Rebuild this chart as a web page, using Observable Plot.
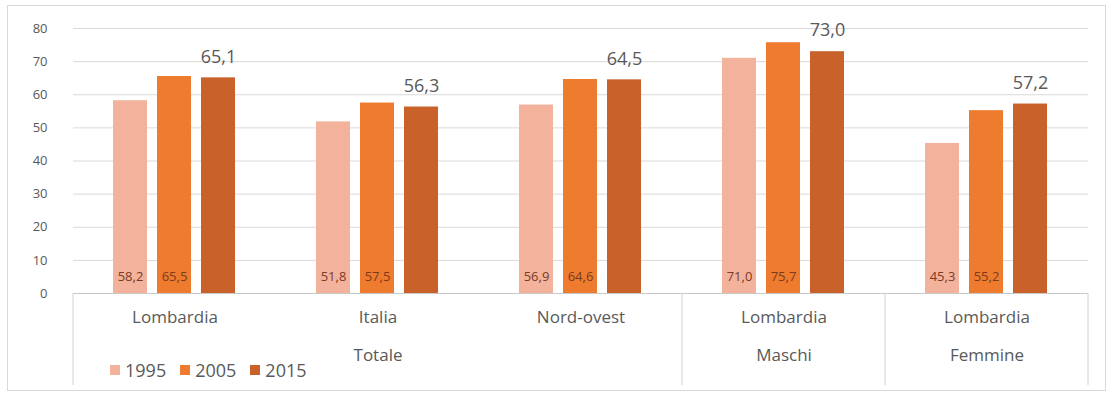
<!DOCTYPE html>
<html>
<head>
<meta charset="utf-8">
<script src="https://cdn.jsdelivr.net/npm/d3@7"></script>
<script src="https://cdn.jsdelivr.net/npm/@observablehq/plot@0.6"></script>
<style>
  body { margin: 0; background: #fff; }
  #wrap { position: relative; width: 1113px; height: 394px; font-family: "Open Sans", sans-serif; }
  #border { position: absolute; left: 7px; top: 5px; width: 1097px; height: 384px; border: 1px solid #d9d9d9; pointer-events: none; }
  #legend { position: absolute; left: 110px; top: 358px; display: flex; gap: 14px; font-size: 18px; color: #595959; }
  #legend span.sw { display: inline-block; width: 10px; height: 10px; margin-right: 5px; vertical-align: middle; position: relative; top: -2px; }
</style>
</head>
<body>
<div id="wrap"><div id="chart"></div><div id="legend"></div><div id="border"></div></div>
<script>
// ---- data ----
const groups = ["Totale", "Totale", "Totale", "Maschi", "Femmine"];
const areas = ["Lombardia", "Italia", "Nord-ovest", "Lombardia", "Lombardia"];
const years = ["1995", "2005", "2015"];
const v1995 = [58.2, 51.8, 56.9, 71.0, 45.3];
const v2005 = [65.5, 57.5, 64.6, 75.7, 55.2];
const v2015 = [65.1, 56.3, 64.5, 73.0, 57.2];
const yTicks = [0, 10, 20, 30, 40, 50, 60, 70, 80];
const colors = ["#f3b29c", "#ee7b2e", "#c9622a"];
// group labels (level 2), centered in the middle facet of each group
const groupLabelKeys = ["Totale|Italia", "Maschi|Lombardia", "Femmine|Lombardia"];
const groupLabelText = ["Totale", "Maschi", "Femmine"];
// separator boundaries (left edges of these facets, plus right edge of last)
const sepKeys = ["Totale|Lombardia", "Maschi|Lombardia", "Femmine|Lombardia"];

const keys = groups.map((g, i) => g + "|" + areas[i]);
const series = [v1995, v2005, v2015];
const data = [];
keys.forEach((k, i) => years.forEach((y, j) => data.push({key: k, area: areas[i], year: y, value: series[j][i]})));
const fmt = d => d.toFixed(1).replace(".", ",");

const chart = Plot.plot({
  width: 1113,
  height: 394,
  marginLeft: 73,
  marginRight: 25,
  marginTop: 28,
  marginBottom: 101,
  style: {fontFamily: "Open Sans, sans-serif", fontSize: "13px", color: "#595959", background: "transparent"},
  fx: {domain: keys, padding: 0, axis: null},
  x: {domain: years, paddingInner: 0.22, paddingOuter: 0.9, axis: null},
  y: {domain: [0, 80], ticks: yTicks, tickSize: 0, tickPadding: 26, label: null, tickFormat: d => d},
  color: {domain: years, range: colors},
  marks: [
    Plot.ruleY(yTicks.filter(d => d > 0), {stroke: "#d9d9d9", strokeWidth: 1}),
    Plot.barY(data, {fx: "key", x: "year", y: "value", fill: "year"}),
    Plot.ruleY([0], {stroke: "#c8c8c8", strokeWidth: 1}),
    Plot.text(data.filter(d => d.year !== "2015"), {fx: "key", x: "year", y: 0, text: d => fmt(d.value), dy: -17, fill: "#7b3b1f", fontSize: 13}),
    Plot.text(data.filter(d => d.year === "2015"), {fx: "key", x: "year", y: "value", text: d => fmt(d.value), dy: -21, fill: "#595959", fontSize: 18}),
    Plot.text(keys.map((k, i) => ({key: k, area: areas[i]})), {fx: "key", text: "area", frameAnchor: "bottom", dy: 29, fill: "#595959", fontSize: 17}),
    Plot.text(groupLabelKeys.map((k, i) => ({key: k, label: groupLabelText[i]})), {fx: "key", text: "label", frameAnchor: "bottom", dy: 67, fill: "#595959", fontSize: 17})
  ]
});
document.getElementById("chart").append(chart);

// separator lines in the category axis box, placed with the fx scale
const fxScale = chart.scale("fx");
const fxS = Plot.scale({fx: fxScale});
const yS = Plot.scale({y: chart.scale("y")});
const y0 = yS.apply(0);
const bw = fxScale.bandwidth;
const xs = sepKeys.map(k => fxS.apply(k));
xs.push(fxS.apply(keys[keys.length - 1]) + bw);
const svg = d3.select(chart.tagName.toLowerCase() === "svg" ? chart : chart.querySelector("svg"));
svg.append("g").selectAll("line").data(xs).join("line")
  .attr("x1", d => d).attr("x2", d => d)
  .attr("y1", y0).attr("y2", y0 + 92)
  .attr("stroke", "#d0d0d0").attr("stroke-width", 1);

// legend
const leg = d3.select("#legend");
years.forEach((y, i) => {
  const it = leg.append("div");
  it.append("span").attr("class", "sw").style("background", colors[i]);
  it.append("span").text(y);
});
</script>
</body>
</html>
